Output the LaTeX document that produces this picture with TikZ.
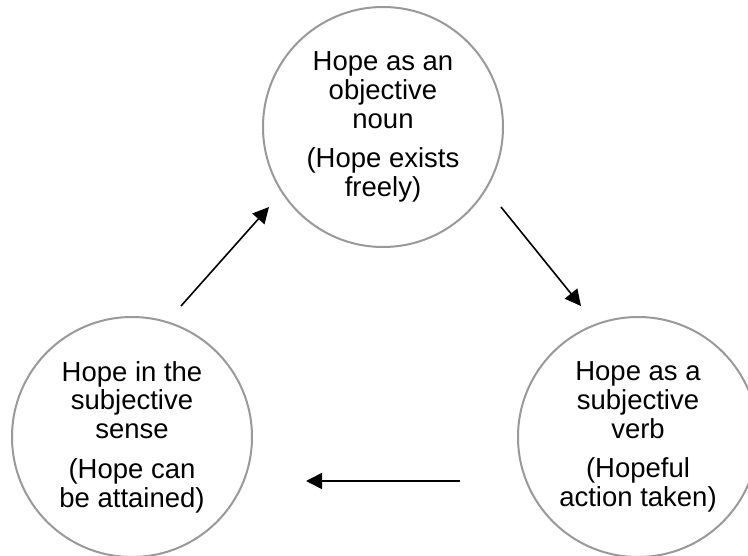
\documentclass[tikz,border=0pt]{standalone}
\usepackage{fontspec}
\setmainfont{Liberation Sans}
\usetikzlibrary{arrows.meta}
\begin{document}
\begin{tikzpicture}[x=1pt,y=-1pt,
  stage/.style={circle, draw=black!40, line width=2pt, fill=white,
    minimum size=240pt, inner sep=0pt, align=center, text=black,
    font=\fontsize{27.5}{28.8}\selectfont},
  flow/.style={line width=1.6pt, -{Triangle[length=16pt,width=16pt]}}]
\useasboundingbox[fill=white] (0,0) rectangle (748,556);
\node[stage] (noun) at (383,127) {Hope as an\\objective\\noun\\[11pt](Hope exists\\freely)};
\node[stage] (sense) at (132,437) {Hope in the\\subjective\\sense\\[11pt](Hope can\\be attained)};
\node[stage] (verb) at (638,437) {Hope as a\\subjective\\verb\\[11pt](Hopeful\\action taken)};
\coordinate (a1s) at (181,306);
\coordinate (a1e) at (269,207);
\coordinate (a2s) at (501,207);
\coordinate (a2e) at (581,306);
\coordinate (a3s) at (460,481);
\coordinate (a3e) at (306,481);
\draw[flow] (a1s) -- (a1e);
\draw[flow] (a2s) -- (a2e);
\draw[flow] (a3s) -- (a3e);
\end{tikzpicture}
\end{document}
